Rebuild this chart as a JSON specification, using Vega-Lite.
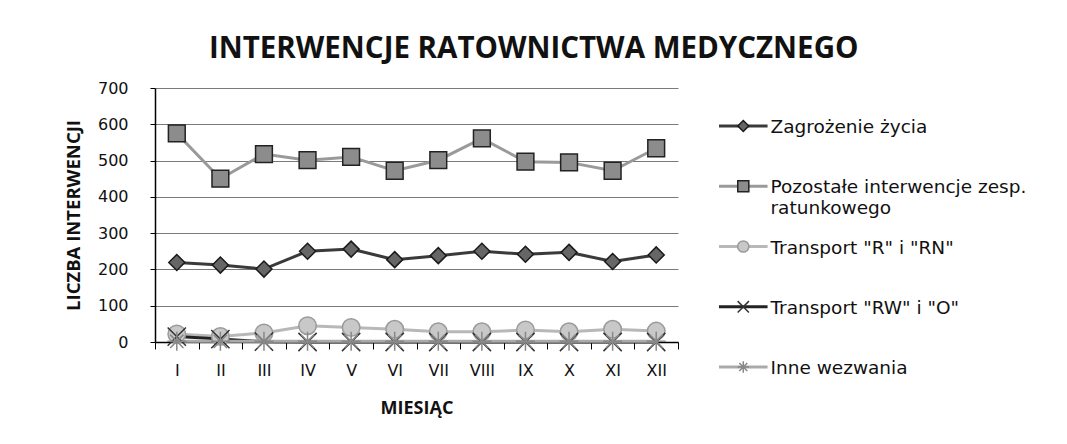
{
  "$schema": "https://vega.github.io/schema/vega-lite/v6.json",
  "padding": {"left": 64, "top": 33, "right": 2, "bottom": 2},
  "background": "white",
  "spacing": 38,
  "config": {
    "view": {"stroke": null},
    "font": "Open Sans",
    "axis": {"labelFont": "DejaVu Sans", "titleFont": "Open Sans", "labelColor": "#111", "titleColor": "#111", "domainColor": "#000", "tickColor": "#000"}
  },
  "title": {"text": "INTERWENCJE RATOWNICTWA MEDYCZNEGO", "font": "Open Sans", "fontSize": 29.5, "fontWeight": "bold", "color": "#111", "anchor": "middle", "offset": 16, "dx": -28},
  "datasets": {
    "main": [
      {"m": "I", "s": "Zagrożenie życia", "v": 219},
      {"m": "II", "s": "Zagrożenie życia", "v": 212},
      {"m": "III", "s": "Zagrożenie życia", "v": 201},
      {"m": "IV", "s": "Zagrożenie życia", "v": 250},
      {"m": "V", "s": "Zagrożenie życia", "v": 256},
      {"m": "VI", "s": "Zagrożenie życia", "v": 227},
      {"m": "VII", "s": "Zagrożenie życia", "v": 238},
      {"m": "VIII", "s": "Zagrożenie życia", "v": 250},
      {"m": "IX", "s": "Zagrożenie życia", "v": 242},
      {"m": "X", "s": "Zagrożenie życia", "v": 247},
      {"m": "XI", "s": "Zagrożenie życia", "v": 222},
      {"m": "XII", "s": "Zagrożenie życia", "v": 240},
      {"m": "I", "s": "Pozostałe interwencje zesp. ratunkowego", "v": 575},
      {"m": "II", "s": "Pozostałe interwencje zesp. ratunkowego", "v": 450},
      {"m": "III", "s": "Pozostałe interwencje zesp. ratunkowego", "v": 518},
      {"m": "IV", "s": "Pozostałe interwencje zesp. ratunkowego", "v": 501},
      {"m": "V", "s": "Pozostałe interwencje zesp. ratunkowego", "v": 510},
      {"m": "VI", "s": "Pozostałe interwencje zesp. ratunkowego", "v": 472},
      {"m": "VII", "s": "Pozostałe interwencje zesp. ratunkowego", "v": 501},
      {"m": "VIII", "s": "Pozostałe interwencje zesp. ratunkowego", "v": 561},
      {"m": "IX", "s": "Pozostałe interwencje zesp. ratunkowego", "v": 497},
      {"m": "X", "s": "Pozostałe interwencje zesp. ratunkowego", "v": 495},
      {"m": "XI", "s": "Pozostałe interwencje zesp. ratunkowego", "v": 472},
      {"m": "XII", "s": "Pozostałe interwencje zesp. ratunkowego", "v": 534},
      {"m": "I", "s": "Transport \"R\" i \"RN\"", "v": 22},
      {"m": "II", "s": "Transport \"R\" i \"RN\"", "v": 15},
      {"m": "III", "s": "Transport \"R\" i \"RN\"", "v": 25},
      {"m": "IV", "s": "Transport \"R\" i \"RN\"", "v": 45},
      {"m": "V", "s": "Transport \"R\" i \"RN\"", "v": 40},
      {"m": "VI", "s": "Transport \"R\" i \"RN\"", "v": 35},
      {"m": "VII", "s": "Transport \"R\" i \"RN\"", "v": 28},
      {"m": "VIII", "s": "Transport \"R\" i \"RN\"", "v": 28},
      {"m": "IX", "s": "Transport \"R\" i \"RN\"", "v": 33},
      {"m": "X", "s": "Transport \"R\" i \"RN\"", "v": 28},
      {"m": "XI", "s": "Transport \"R\" i \"RN\"", "v": 35},
      {"m": "XII", "s": "Transport \"R\" i \"RN\"", "v": 30},
      {"m": "I", "s": "Transport \"RW\" i \"O\"", "v": 15},
      {"m": "II", "s": "Transport \"RW\" i \"O\"", "v": 8},
      {"m": "III", "s": "Transport \"RW\" i \"O\"", "v": 1},
      {"m": "IV", "s": "Transport \"RW\" i \"O\"", "v": 0},
      {"m": "V", "s": "Transport \"RW\" i \"O\"", "v": 0},
      {"m": "VI", "s": "Transport \"RW\" i \"O\"", "v": 0},
      {"m": "VII", "s": "Transport \"RW\" i \"O\"", "v": 0},
      {"m": "VIII", "s": "Transport \"RW\" i \"O\"", "v": 0},
      {"m": "IX", "s": "Transport \"RW\" i \"O\"", "v": 0},
      {"m": "X", "s": "Transport \"RW\" i \"O\"", "v": 0},
      {"m": "XI", "s": "Transport \"RW\" i \"O\"", "v": 0},
      {"m": "XII", "s": "Transport \"RW\" i \"O\"", "v": 0},
      {"m": "I", "s": "Inne wezwania", "v": 2},
      {"m": "II", "s": "Inne wezwania", "v": 2},
      {"m": "III", "s": "Inne wezwania", "v": 2},
      {"m": "IV", "s": "Inne wezwania", "v": 2},
      {"m": "V", "s": "Inne wezwania", "v": 2},
      {"m": "VI", "s": "Inne wezwania", "v": 2},
      {"m": "VII", "s": "Inne wezwania", "v": 2},
      {"m": "VIII", "s": "Inne wezwania", "v": 2},
      {"m": "IX", "s": "Inne wezwania", "v": 2},
      {"m": "X", "s": "Inne wezwania", "v": 2},
      {"m": "XI", "s": "Inne wezwania", "v": 2},
      {"m": "XII", "s": "Inne wezwania", "v": 2}
    ],
    "legend": [
      {"s": "Zagrożenie życia", "label": "Zagrożenie życia"},
      {"s": "Pozostałe interwencje zesp. ratunkowego", "label": "Pozostałe interwencje zesp.\nratunkowego"},
      {"s": "Transport \"R\" i \"RN\"", "label": "Transport \"R\" i \"RN\""},
      {"s": "Transport \"RW\" i \"O\"", "label": "Transport \"RW\" i \"O\""},
      {"s": "Inne wezwania", "label": "Inne wezwania"}
    ]
  },
  "hconcat": [
    {
      "width": 523,
      "height": 254,
      "data": {"name": "main"},
      "encoding": {
        "x": {
          "field": "m", "type": "ordinal",
          "sort": ["I","II","III","IV","V","VI","VII","VIII","IX","X","XI","XII"],
          "scale": {"type": "band", "paddingInner": 0, "paddingOuter": 0},
          "axis": {"title": "MIESIĄC", "titleFontSize": 18, "titleFontWeight": "bold", "titlePadding": 21, "labelAngle": 0, "labelFontSize": 16, "labelPadding": 13, "tickBand": "extent", "tickSize": 7, "domainWidth": 1.5, "grid": false}
        },
        "y": {
          "field": "v", "type": "quantitative",
          "scale": {"domain": [0, 700], "nice": false},
          "axis": {"title": "LICZBA INTERWENCJI", "titleFontSize": 18.5, "titleFontWeight": "bold", "titlePadding": 14, "values": [0,100,200,300,400,500,600,700], "labelFontSize": 16, "labelPadding": 22, "tickSize": 5, "domainWidth": 1.5, "grid": true, "gridColor": "#7a7a7a", "gridWidth": 1}
        }
      },
      "layer": [
        {
          "mark": {"type": "line"},
          "encoding": {
            "detail": {"field": "s"},
            "stroke": {"field": "s", "type": "nominal", "legend": null,
              "scale": {"domain": ["Zagrożenie życia", "Pozostałe interwencje zesp. ratunkowego", "Transport \"R\" i \"RN\"", "Transport \"RW\" i \"O\"", "Inne wezwania"],
                        "range": ["#3a3a3a", "#9a9a9a", "#b8b8b8", "#222222", "#aaaaaa"]}},
            "strokeWidth": {"field": "s", "type": "nominal", "legend": null,
              "scale": {"domain": ["Zagrożenie życia", "Pozostałe interwencje zesp. ratunkowego", "Transport \"R\" i \"RN\"", "Transport \"RW\" i \"O\"", "Inne wezwania"],
                        "range": [3, 3, 2.5, 2, 2]}}
          }
        },
        {
          "mark": {"type": "point", "filled": true, "opacity": 1, "strokeWidth": 1.5},
          "encoding": {
            "shape": {"field": "s", "type": "nominal", "legend": null,
              "scale": {"domain": ["Zagrożenie życia", "Pozostałe interwencje zesp. ratunkowego", "Transport \"R\" i \"RN\"", "Transport \"RW\" i \"O\"", "Inne wezwania"],
                        "range": ["diamond", "square", "circle", "M-1,-1L1,1M-1,1L1,-1", "M-1,0L1,0M0,-1L0,1M-0.7,-0.7L0.7,0.7M-0.7,0.7L0.7,-0.7"]}},
            "fill": {"field": "s", "type": "nominal", "legend": null,
              "scale": {"domain": ["Zagrożenie życia", "Pozostałe interwencje zesp. ratunkowego", "Transport \"R\" i \"RN\"", "Transport \"RW\" i \"O\"", "Inne wezwania"],
                        "range": ["#666666", "#8c8c8c", "#c8c8c8", "#ffffff", "#ffffff"]}},
            "stroke": {"field": "s", "type": "nominal", "legend": null,
              "scale": {"domain": ["Zagrożenie życia", "Pozostałe interwencje zesp. ratunkowego", "Transport \"R\" i \"RN\"", "Transport \"RW\" i \"O\"", "Inne wezwania"],
                        "range": ["#1a1a1a", "#222222", "#9a9a9a", "#333333", "#888888"]}},
            "size": {"field": "s", "type": "nominal", "legend": null,
              "scale": {"domain": ["Zagrożenie życia", "Pozostałe interwencje zesp. ratunkowego", "Transport \"R\" i \"RN\"", "Transport \"RW\" i \"O\"", "Inne wezwania"],
                        "range": [256, 360, 220, 60, 60]}}
          }
        }
      ],
      "resolve": {"scale": {"stroke": "independent"}}
    },
    {
      "width": 340,
      "height": 317,
      "data": {"name": "legend"},
      "encoding": {
        "y": {"field": "s", "type": "nominal", "axis": null,
          "sort": ["Zagrożenie życia", "Pozostałe interwencje zesp. ratunkowego", "Transport \"R\" i \"RN\"", "Transport \"RW\" i \"O\"", "Inne wezwania"],
          "scale": {"type": "point", "padding": 0.63}}
      },
      "layer": [
        {
          "mark": {"type": "rule"},
          "encoding": {
            "x": {"datum": 0, "type": "quantitative", "scale": {"domain": [0, 340]}, "axis": null},
            "x2": {"datum": 50},
            "stroke": {"field": "s", "type": "nominal", "legend": null,
              "scale": {"domain": ["Zagrożenie życia", "Pozostałe interwencje zesp. ratunkowego", "Transport \"R\" i \"RN\"", "Transport \"RW\" i \"O\"", "Inne wezwania"],
                        "range": ["#3a3a3a", "#9a9a9a", "#b8b8b8", "#222222", "#aaaaaa"]}},
            "strokeWidth": {"field": "s", "type": "nominal", "legend": null,
              "scale": {"domain": ["Zagrożenie życia", "Pozostałe interwencje zesp. ratunkowego", "Transport \"R\" i \"RN\"", "Transport \"RW\" i \"O\"", "Inne wezwania"],
                        "range": [3, 3, 2.5, 2, 2]}}
          }
        },
        {
          "mark": {"type": "point", "filled": true, "opacity": 1, "strokeWidth": 1.5},
          "encoding": {
            "x": {"datum": 25, "type": "quantitative"},
            "shape": {"field": "s", "type": "nominal", "legend": null,
              "scale": {"domain": ["Zagrożenie życia", "Pozostałe interwencje zesp. ratunkowego", "Transport \"R\" i \"RN\"", "Transport \"RW\" i \"O\"", "Inne wezwania"],
                        "range": ["diamond", "square", "circle", "M-1,-1L1,1M-1,1L1,-1", "M-1,0L1,0M0,-1L0,1M-0.7,-0.7L0.7,0.7M-0.7,0.7L0.7,-0.7"]}},
            "fill": {"field": "s", "type": "nominal", "legend": null,
              "scale": {"domain": ["Zagrożenie życia", "Pozostałe interwencje zesp. ratunkowego", "Transport \"R\" i \"RN\"", "Transport \"RW\" i \"O\"", "Inne wezwania"],
                        "range": ["#666666", "#8c8c8c", "#c8c8c8", "#ffffff", "#ffffff"]}},
            "stroke": {"field": "s", "type": "nominal", "legend": null,
              "scale": {"domain": ["Zagrożenie życia", "Pozostałe interwencje zesp. ratunkowego", "Transport \"R\" i \"RN\"", "Transport \"RW\" i \"O\"", "Inne wezwania"],
                        "range": ["#1a1a1a", "#222222", "#9a9a9a", "#333333", "#888888"]}},
            "size": {"field": "s", "type": "nominal", "legend": null,
              "scale": {"domain": ["Zagrożenie życia", "Pozostałe interwencje zesp. ratunkowego", "Transport \"R\" i \"RN\"", "Transport \"RW\" i \"O\"", "Inne wezwania"],
                        "range": [120, 130, 120, 70, 70]}}
          }
        },
        {
          "mark": {"type": "text", "align": "left", "baseline": "alphabetic", "dy": 7, "font": "DejaVu Sans", "fontSize": 18.5, "color": "#111", "lineBreak": "\n", "lineHeight": 21},
          "encoding": {
            "x": {"datum": 53, "type": "quantitative"},
            "text": {"field": "label"}
          }
        }
      ],
      "resolve": {"scale": {"stroke": "independent"}}
    }
  ],
  "resolve": {"scale": {"x": "independent", "y": "independent", "shape": "independent", "fill": "independent", "stroke": "independent", "strokeWidth": "independent", "size": "independent"}}
}
